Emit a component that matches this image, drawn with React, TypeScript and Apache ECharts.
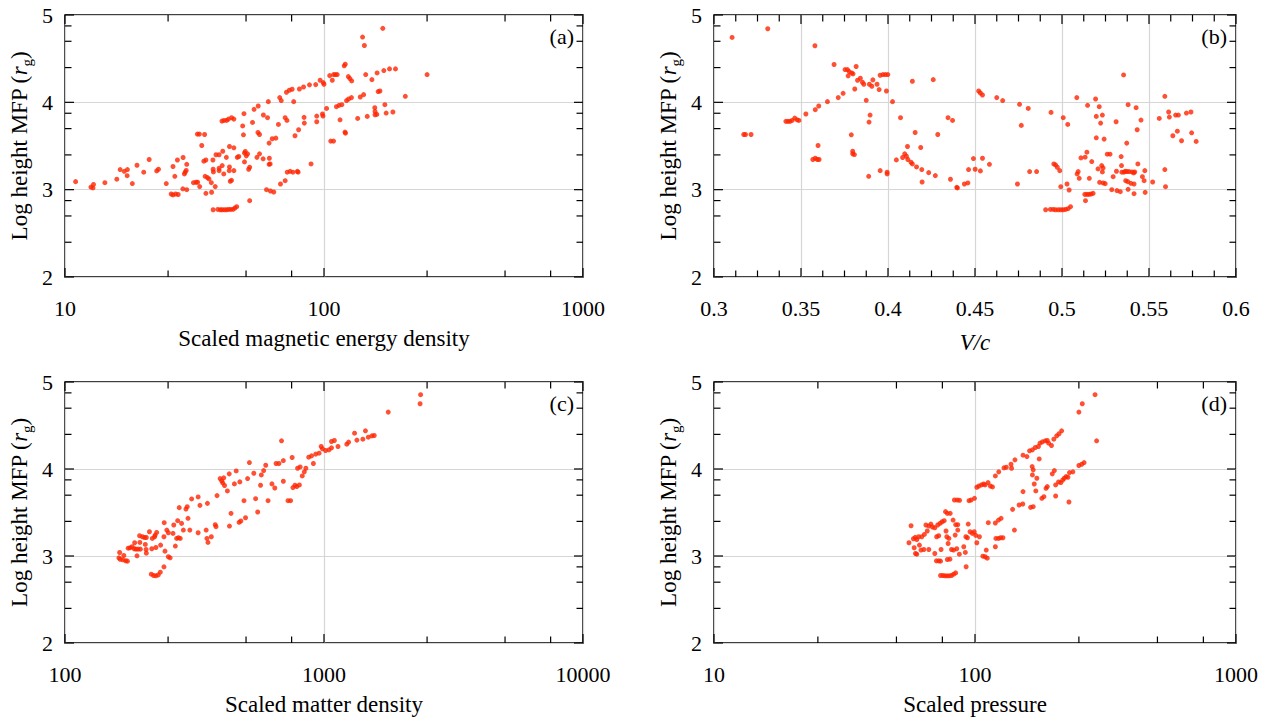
import React, { useEffect, useRef } from "react";
import * as echarts from "echarts";

// ---- data: [x, log height MFP] ; x of (a),(c),(d) given as log10 of the scaled quantity ----
const magEnergyVsMfp: [number, number][] = [
  [1.041,3.092],[1.10,3.03],[1.11,3.06],[1.108,3.02],[1.154,3.08],[1.2,3.12],[1.213,3.23],[1.229,3.21],[1.241,3.23],[1.24,3.16],[1.26,3.07],[1.278,3.28],[1.304,3.20],[1.325,3.345],[1.354,3.215],[1.361,3.234],[1.391,3.07],[1.41,2.95],[1.417,2.94],[1.427,2.95],[1.437,2.945],[1.417,3.265],[1.424,3.153],[1.434,3.34],[1.456,3.368],[1.47,3.29],[1.464,3.20],[1.461,3.18],[1.468,3.22],[1.455,3.01],[1.47,3.0],[1.496,3.08],[1.506,3.085],[1.512,3.085],[1.52,3.035],[1.511,3.636],[1.519,3.636],[1.539,3.632],[1.528,3.506],[1.536,3.326],[1.544,3.34],[1.541,3.153],[1.55,3.138],[1.544,2.958],[1.556,3.123],[1.566,2.97],[1.565,3.08],[1.571,3.34],[1.583,3.4],[1.595,3.4],[1.572,3.234],[1.573,3.203],[1.58,3.035],[1.572,2.77],[1.59,2.774],[1.6,2.77],[1.607,2.77],[1.616,2.77],[1.624,2.77],[1.632,2.774],[1.64,2.774],[1.649,2.775],[1.656,2.79],[1.663,2.805],[1.606,3.785],[1.614,3.793],[1.624,3.793],[1.631,3.808],[1.643,3.824],[1.652,3.808],[1.595,3.218],[1.595,3.245],[1.607,3.276],[1.613,3.18],[1.609,3.44],[1.623,3.37],[1.635,3.494],[1.652,3.479],[1.635,3.26],[1.634,3.218],[1.652,3.218],[1.638,3.096],[1.643,3.107],[1.665,3.37],[1.671,3.38],[1.686,3.73],[1.689,3.628],[1.691,3.87],[1.693,3.42],[1.696,3.437],[1.693,3.318],[1.7,3.387],[1.705,3.41],[1.709,3.234],[1.713,3.257],[1.713,2.874],[1.724,3.77],[1.73,3.92],[1.741,3.37],[1.746,3.958],[1.745,3.655],[1.751,3.632],[1.751,3.41],[1.765,3.353],[1.766,3.855],[1.782,3.824],[1.785,4.008],[1.788,3.533],[1.788,3.29],[1.792,3.295],[1.789,3.36],[1.8,3.583],[1.814,3.59],[1.778,3.0],[1.793,2.985],[1.806,2.973],[1.824,3.747],[1.829,4.054],[1.835,4.02],[1.832,3.065],[1.85,3.103],[1.85,3.824],[1.857,3.793],[1.855,4.115],[1.866,4.138],[1.877,4.15],[1.883,4.008],[1.858,3.2],[1.869,3.21],[1.88,3.2],[1.897,3.21],[1.9,3.2],[1.888,3.617],[1.902,3.686],[1.905,4.153],[1.921,4.176],[1.923,3.828],[1.924,3.762],[1.944,4.2],[1.95,3.295],[1.968,4.203],[1.972,3.843],[1.972,3.778],[1.985,4.253],[1.997,4.226],[2.0,4.207],[1.994,3.866],[1.996,3.843],[2.01,3.93],[2.022,4.306],[2.032,4.253],[2.037,4.318],[2.044,4.318],[2.051,4.318],[2.026,3.556],[2.037,3.556],[2.048,3.95],[2.058,3.966],[2.069,3.973],[2.062,3.8],[2.078,4.418],[2.082,4.437],[2.081,3.659],[2.083,3.647],[2.087,4.02],[2.095,4.038],[2.106,4.054],[2.094,4.295],[2.1,4.272],[2.107,4.245],[2.13,3.816],[2.14,4.061],[2.153,4.088],[2.149,4.747],[2.156,4.651],[2.161,4.318],[2.167,3.839],[2.185,4.26],[2.196,3.939],[2.197,3.897],[2.197,3.858],[2.205,4.337],[2.209,4.123],[2.216,4.13],[2.204,3.862],[2.227,4.847],[2.231,4.364],[2.235,3.973],[2.24,3.877],[2.253,4.383],[2.266,3.889],[2.276,4.383],[2.314,4.069],[2.398,4.318]
];

const speedVsMfp: [number, number][] = [
  [0.3104,4.743],[0.3309,4.843],[0.3171,3.632],[0.3181,3.632],[0.3213,3.632],[0.3413,3.782],[0.3425,3.782],[0.3437,3.782],[0.3449,3.793],[0.3464,3.82],[0.3478,3.8],[0.3488,3.793],[0.3528,3.866],[0.358,4.648],[0.3582,3.916],[0.3602,3.958],[0.3568,3.345],[0.3582,3.36],[0.3594,3.345],[0.3604,3.345],[0.3598,3.506],[0.3652,4.008],[0.369,4.433],[0.3714,4.054],[0.3742,4.103],[0.3753,4.375],[0.3767,4.375],[0.3777,4.352],[0.3791,4.337],[0.3799,4.326],[0.3771,4.303],[0.3789,3.628],[0.3797,3.44],[0.3797,3.41],[0.3807,3.402],[0.3809,4.153],[0.3817,4.41],[0.3825,4.253],[0.3841,4.276],[0.3853,4.23],[0.3861,4.207],[0.3875,4.023],[0.3889,3.153],[0.3891,3.774],[0.3897,3.854],[0.3893,4.207],[0.3907,4.184],[0.3913,4.257],[0.3937,4.207],[0.3949,4.146],[0.3955,3.218],[0.3955,4.31],[0.3971,4.318],[0.3985,4.318],[0.3999,4.318],[0.3991,4.13],[0.3995,3.2],[0.3995,3.18],[0.4026,4.008],[0.4048,3.341],[0.4072,3.824],[0.4084,3.368],[0.4096,3.41],[0.4106,3.383],[0.4114,3.345],[0.4112,3.494],[0.4132,3.314],[0.414,3.295],[0.414,4.241],[0.4156,3.655],[0.4164,3.26],[0.4188,3.483],[0.4194,3.23],[0.4196,3.088],[0.4234,3.195],[0.426,4.26],[0.4272,3.161],[0.4286,3.632],[0.4345,3.824],[0.4371,3.793],[0.4359,3.119],[0.4395,3.027],[0.4399,3.02],[0.4439,3.065],[0.4459,3.077],[0.4463,3.23],[0.4491,3.356],[0.4501,3.234],[0.4521,4.13],[0.4531,4.107],[0.4543,4.084],[0.4531,3.215],[0.4543,3.36],[0.4583,3.29],[0.4625,4.054],[0.4659,4.02],[0.4744,3.065],[0.4756,3.977],[0.4766,3.736],[0.4806,3.93],[0.4814,3.207],[0.4854,3.207],[0.4906,2.77],[0.4937,3.885],[0.4933,2.774],[0.4949,2.774],[0.4963,2.77],[0.4979,2.77],[0.4993,2.77],[0.5007,2.77],[0.5021,2.774],[0.5035,2.782],[0.5049,2.805],[0.4953,3.295],[0.4963,3.283],[0.4973,3.257],[0.4987,3.218],[0.4993,3.034],[0.5007,3.824],[0.5029,3.065],[0.5033,3.747],[0.5041,2.996],[0.5085,4.054],[0.5087,3.18],[0.5093,3.207],[0.5099,3.13],[0.5109,3.364],[0.5131,2.946],[0.5143,2.946],[0.5155,2.946],[0.5167,2.95],[0.5179,2.958],[0.5135,2.874],[0.5133,3.372],[0.5143,3.429],[0.5147,3.966],[0.5157,3.13],[0.5171,3.322],[0.5193,4.038],[0.5197,3.839],[0.5197,3.594],[0.5207,3.238],[0.5214,3.95],[0.5216,3.084],[0.5222,3.762],[0.5232,3.854],[0.5228,3.276],[0.5236,3.249],[0.5232,3.203],[0.5242,3.579],[0.5236,3.077],[0.5248,3.069],[0.526,3.406],[0.5276,3.406],[0.5286,3.0],[0.5294,3.149],[0.5311,3.778],[0.5313,3.211],[0.5316,2.989],[0.5335,2.977],[0.534,3.379],[0.5342,3.276],[0.5354,4.314],[0.5344,3.2],[0.5356,3.2],[0.5364,3.211],[0.5374,3.207],[0.5386,3.207],[0.5372,3.533],[0.5366,3.103],[0.5378,3.092],[0.538,3.973],[0.538,3.004],[0.5396,3.073],[0.5402,3.203],[0.5412,3.192],[0.5418,3.203],[0.5414,2.954],[0.5414,3.065],[0.5426,3.939],[0.5432,3.686],[0.5436,3.295],[0.5454,3.797],[0.5462,3.149],[0.5472,3.103],[0.5476,3.218],[0.5478,2.969],[0.5521,3.088],[0.5559,3.816],[0.5591,4.069],[0.5591,3.23],[0.5595,3.034],[0.5613,3.889],[0.5617,3.831],[0.5637,3.617],[0.5653,3.854],[0.5669,3.854],[0.5663,3.67],[0.5687,3.56],[0.5715,3.877],[0.5741,3.889],[0.5745,3.651],[0.5771,3.552]
];

const matterDensityVsMfp: [number, number][] = [
  [2.211,3.04],[2.208,2.979],[2.213,2.963],[2.227,3.006],[2.234,2.945],[2.241,2.941],[2.223,2.956],[2.244,3.09],[2.251,3.094],[2.259,3.106],[2.267,3.083],[2.274,3.079],[2.282,3.079],[2.291,3.079],[2.269,3.152],[2.278,3.002],[2.289,3.156],[2.288,3.233],[2.299,3.221],[2.307,3.213],[2.314,3.213],[2.31,3.133],[2.313,3.075],[2.314,3.033],[2.326,3.279],[2.335,3.083],[2.333,2.791],[2.342,2.776],[2.351,2.772],[2.36,2.783],[2.368,2.814],[2.337,3.202],[2.346,3.221],[2.354,3.271],[2.348,3.24],[2.351,3.098],[2.369,3.125],[2.382,3.221],[2.383,3.383],[2.382,2.875],[2.386,3.056],[2.399,2.991],[2.406,2.979],[2.393,3.298],[2.399,3.267],[2.417,3.26],[2.42,3.356],[2.426,3.114],[2.431,3.202],[2.438,3.21],[2.445,3.202],[2.435,3.406],[2.441,3.556],[2.45,3.375],[2.457,3.298],[2.467,3.54],[2.472,3.567],[2.475,3.433],[2.482,3.298],[2.489,3.656],[2.514,3.679],[2.514,3.267],[2.521,3.582],[2.545,3.298],[2.548,3.202],[2.552,3.156],[2.55,3.605],[2.565,3.221],[2.58,3.36],[2.583,3.337],[2.587,3.694],[2.599,3.89],[2.605,3.863],[2.613,3.898],[2.609,3.84],[2.616,3.81],[2.627,3.748],[2.634,3.944],[2.635,3.344],[2.641,3.49],[2.654,3.829],[2.661,3.978],[2.672,3.387],[2.679,3.402],[2.675,3.852],[2.691,3.636],[2.697,3.44],[2.705,3.89],[2.712,4.074],[2.729,3.951],[2.736,3.659],[2.744,3.506],[2.755,3.813],[2.758,3.932],[2.767,3.982],[2.775,4.043],[2.784,3.636],[2.799,3.829],[2.81,3.782],[2.815,4.063],[2.826,4.063],[2.836,4.324],[2.843,4.097],[2.843,3.859],[2.861,3.636],[2.871,3.636],[2.877,4.132],[2.88,3.786],[2.888,3.813],[2.895,3.798],[2.905,3.817],[2.898,4.009],[2.908,4.024],[2.916,3.92],[2.924,3.967],[2.93,4.009],[2.941,4.136],[2.952,4.151],[2.959,4.063],[2.968,4.171],[2.981,4.182],[2.989,4.259],[2.994,4.232],[3.006,4.213],[3.019,4.22],[3.029,4.243],[3.029,4.316],[3.04,4.328],[3.054,4.259],[3.088,4.285],[3.095,4.309],[3.118,4.412],[3.127,4.332],[3.15,4.343],[3.16,4.439],[3.171,4.366],[3.185,4.381],[3.194,4.385],[3.248,4.654],[3.371,4.75],[3.373,4.854]
];

const pressureVsMfp: [number, number][] = [
  [1.747,3.152],[1.755,3.348],[1.764,3.198],[1.771,3.214],[1.777,3.19],[1.784,3.221],[1.767,3.095],[1.772,3.029],[1.777,3.021],[1.787,3.125],[1.793,3.068],[1.804,3.075],[1.796,3.221],[1.806,3.248],[1.817,3.287],[1.812,3.356],[1.823,3.344],[1.831,3.367],[1.823,3.075],[1.837,3.333],[1.846,3.325],[1.857,3.356],[1.866,3.375],[1.874,3.394],[1.846,3.029],[1.852,2.944],[1.861,2.944],[1.868,2.941],[1.853,3.221],[1.861,3.233],[1.87,3.075],[1.868,2.776],[1.877,2.776],[1.885,2.772],[1.893,2.772],[1.901,2.772],[1.91,2.776],[1.918,2.791],[1.926,2.806],[1.882,3.406],[1.887,3.51],[1.894,3.49],[1.905,3.49],[1.889,3.287],[1.892,3.221],[1.9,3.202],[1.897,3.144],[1.894,2.96],[1.904,2.964],[1.91,3.075],[1.918,3.068],[1.93,3.083],[1.916,3.413],[1.926,3.36],[1.934,3.36],[1.921,3.644],[1.932,3.644],[1.941,3.64],[1.924,3.24],[1.934,3.298],[1.94,3.021],[1.957,3.106],[1.963,3.041],[1.966,2.876],[1.965,3.221],[1.971,3.21],[1.974,3.367],[1.977,3.636],[1.985,3.644],[1.981,3.279],[1.99,3.26],[1.997,3.279],[2.003,3.237],[1.998,3.663],[2.007,3.152],[2.007,3.79],[2.015,3.805],[2.025,3.817],[2.033,3.828],[2.039,3.817],[2.017,3.221],[2.03,2.998],[2.039,2.991],[2.047,2.975],[2.043,3.068],[2.051,3.383],[2.05,3.844],[2.059,3.805],[2.067,3.794],[2.078,3.92],[2.078,3.106],[2.08,3.202],[2.09,3.202],[2.098,3.21],[2.107,3.21],[2.078,3.379],[2.09,3.413],[2.1,3.433],[2.091,3.967],[2.111,4.013],[2.12,4.02],[2.138,4.055],[2.14,4.009],[2.144,3.536],[2.151,3.298],[2.153,4.105],[2.169,3.586],[2.183,3.598],[2.184,4.159],[2.199,4.143],[2.209,4.209],[2.22,4.22],[2.231,4.247],[2.184,3.74],[2.213,3.559],[2.223,3.567],[2.219,4.028],[2.223,3.99],[2.22,3.932],[2.227,3.828],[2.233,3.748],[2.237,3.894],[2.246,4.116],[2.243,4.259],[2.249,4.297],[2.258,4.312],[2.269,4.324],[2.277,4.328],[2.282,4.297],[2.256,3.663],[2.264,3.682],[2.272,3.778],[2.277,3.798],[2.293,4.27],[2.296,3.944],[2.304,3.982],[2.302,4.343],[2.313,4.381],[2.322,4.405],[2.332,4.439],[2.309,3.69],[2.309,3.817],[2.32,3.851],[2.329,3.844],[2.336,3.874],[2.342,3.894],[2.349,3.913],[2.356,3.905],[2.36,3.621],[2.362,3.959],[2.375,3.967],[2.398,4.04],[2.409,4.055],[2.418,4.074],[2.398,4.654],[2.411,4.75],[2.46,4.854],[2.466,4.324]
];

// ---- axis ticks ----
const decadeLabels: Record<string, string> = { "1": "10", "2": "100", "3": "1000", "4": "10000" };
const yMajorTicks = [2, 3, 4, 5];
const yMinorTicks = [2.398, 2.699, 2.875, 3.398, 3.699, 3.875, 4.398, 4.699, 4.875];
const xMajorA = [1, 2, 3];
const xMinorA = [1.398, 1.699, 1.875, 2.398, 2.699, 2.875];
const xMajorB = [0.3, 0.35, 0.4, 0.45, 0.5, 0.55, 0.6];
const xMinorB = [0.3125, 0.325, 0.3375, 0.3625, 0.375, 0.3875, 0.4125, 0.425, 0.4375, 0.4625, 0.475, 0.4875, 0.5125, 0.525, 0.5375, 0.5625, 0.575, 0.5875];
const xMajorC = [2, 3, 4];
const xMinorC = [2.398, 2.699, 2.875, 3.398, 3.699, 3.875];

const FONT = "'Liberation Serif', 'Times New Roman', serif";
const RED = "#ff2400";

function tickData(xMaj: number[], xMin: number[], xMid: number, yMid: number) {
  return [
    ...xMaj.map((v) => [v, yMid, 0]),
    ...xMin.map((v) => [v, yMid, 1]),
    ...yMajorTicks.map((v) => [xMid, v, 2]),
    ...yMinorTicks.map((v) => [xMid, v, 3]),
  ];
}

function renderTicks(params: any, api: any) {
  const cs = params.coordSys;
  const kind = api.value(2);
  const p = api.coord([api.value(0), api.value(1)]);
  const len = kind === 0 || kind === 2 ? 9 : 6.5;
  const style = { stroke: "#000", lineWidth: 1.2 };
  if (kind < 2) {
    const x = p[0];
    const b = cs.y + cs.height;
    return {
      type: "group",
      children: [
        { type: "line", shape: { x1: x, y1: b, x2: x, y2: b - len }, style },
        { type: "line", shape: { x1: x, y1: cs.y, x2: x, y2: cs.y + len }, style },
      ],
    };
  }
  const y = p[1];
  const r = cs.x + cs.width;
  return {
    type: "group",
    children: [
      { type: "line", shape: { x1: cs.x, y1: y, x2: cs.x + len, y2: y }, style },
      { type: "line", shape: { x1: r, y1: y, x2: r - len, y2: y }, style },
    ],
  };
}

export default function App() {
  const ref = useRef<HTMLDivElement>(null);
  useEffect(() => {
    if (!ref.current) return;
    const chart = echarts.init(ref.current, undefined, { renderer: "svg" });
    const grids = [
      { left: 65, top: 15, width: 518, height: 262 },
      { left: 714, top: 15, width: 522, height: 262 },
      { left: 65, top: 382, width: 518, height: 261 },
      { left: 714, top: 382, width: 522, height: 261 },
    ].map((g) => ({ ...g, show: true, borderColor: "#000", borderWidth: 1.5, backgroundColor: "transparent" }));

    const xLabelStyle = { fontFamily: FONT, fontSize: 22, color: "#000", margin: 20 };
    const yLabelStyle = { fontFamily: FONT, fontSize: 22, color: "#000", margin: 12 };
    const splitLine = { show: true, lineStyle: { color: "#d6d6d6", width: 1.2 } };
    const nameStyle = {
      fontFamily: FONT,
      fontSize: 23,
      color: "#000",
      rich: {
        t: { fontFamily: FONT, fontSize: 23, color: "#000", lineHeight: 30 },
        i: { fontFamily: FONT, fontSize: 23, color: "#000", fontStyle: "italic", lineHeight: 30 },
        s: { fontFamily: FONT, fontSize: 15, color: "#000", verticalAlign: "bottom", lineHeight: 15 },
      },
    };
    const logFmt = (v: number) => decadeLabels[String(Math.round(v))] ?? "";

    const xBase = {
      type: "value",
      axisLine: { show: false },
      axisTick: { show: false },
      splitLine,
      nameLocation: "middle",
      nameGap: 50,
      nameTextStyle: nameStyle,
    };
    const xAxis = [
      { ...xBase, gridIndex: 0, min: 1, max: 3, interval: 1, axisLabel: { ...xLabelStyle, formatter: logFmt }, name: "Scaled magnetic energy density" },
      { ...xBase, gridIndex: 1, min: 0.3, max: 0.6, interval: 0.05, axisLabel: { ...xLabelStyle }, name: "{i|V/c}" },
      { ...xBase, gridIndex: 2, min: 2, max: 4, interval: 1, axisLabel: { ...xLabelStyle, formatter: logFmt }, name: "Scaled matter density" },
      { ...xBase, gridIndex: 3, min: 1, max: 3, interval: 1, axisLabel: { ...xLabelStyle, formatter: logFmt }, name: "Scaled pressure" },
    ];
    const yAxis = [0, 1, 2, 3].map((i) => ({
      type: "value",
      gridIndex: i,
      min: 2,
      max: 5,
      interval: 1,
      axisLine: { show: false },
      axisTick: { show: false },
      splitLine,
      axisLabel: { ...yLabelStyle },
      name: "{t|Log height MFP (}{i|r}{s|g}{t|)}",
      nameLocation: "middle",
      nameRotate: 90,
      nameGap: 31,
      nameTextStyle: nameStyle,
    }));

    const panels = [magEnergyVsMfp, speedVsMfp, matterDensityVsMfp, pressureVsMfp];
    const ticks = [
      tickData(xMajorA, xMinorA, 2, 3),
      tickData(xMajorB, xMinorB, 0.45, 3),
      tickData(xMajorC, xMinorC, 3, 3),
      tickData(xMajorA, xMinorA, 2, 3),
    ];
    const series: any[] = [];
    panels.forEach((d, i) => {
      series.push({
        type: "scatter",
        xAxisIndex: i,
        yAxisIndex: i,
        data: d,
        symbol: "circle",
        symbolSize: 5,
        itemStyle: { color: RED },
        z: 3,
      });
      series.push({
        type: "custom",
        xAxisIndex: i,
        yAxisIndex: i,
        data: ticks[i],
        renderItem: renderTicks,
        silent: true,
        z: 4,
      });
    });

    const panelLabels = ["(a)", "(b)", "(c)", "(d)"];
    const graphic = panelLabels.map((t, i) => ({
      type: "text",
      x: grids[i].left + grids[i].width - 9,
      y: grids[i].top + 21,
      style: { text: t, fontFamily: FONT, fontSize: 22, fill: "#000", textAlign: "right", textVerticalAlign: "middle" },
      z: 10,
    }));

    chart.setOption({
      animation: false,
      backgroundColor: "#fff",
      grid: grids,
      xAxis,
      yAxis,
      series,
      graphic,
    });
    return () => chart.dispose();
  }, []);
  return <div ref={ref} style={{ position: "absolute", left: 0, top: 0, width: 1271, height: 725 }} />;
}
